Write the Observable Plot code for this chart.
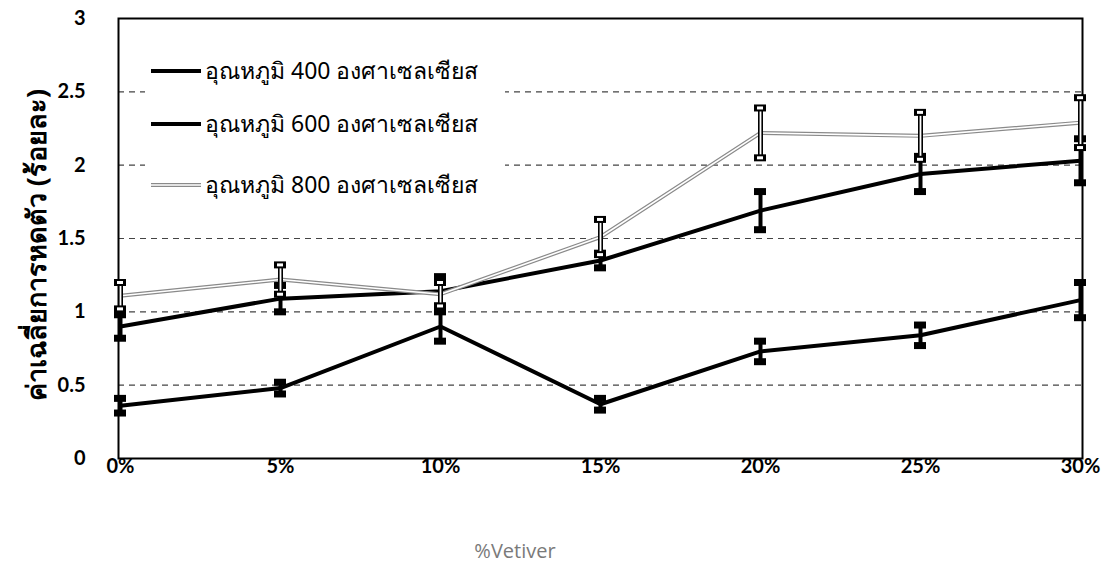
<!DOCTYPE html>
<html><head><meta charset="utf-8">
<script src="https://cdn.jsdelivr.net/npm/d3@7"></script>
<script src="https://cdn.jsdelivr.net/npm/@observablehq/plot@0.6"></script>
<style>
body{margin:0;background:#fff;}
#wrap{position:relative;width:1114px;height:572px;overflow:hidden;font-family:"Lato","Liberation Sans",sans-serif;}
#legend{position:absolute;left:145px;top:52px;width:360px;height:155px;background:#fff;}
.lrow{position:absolute;left:6px;height:30px;display:flex;align-items:center;font-family:"Noto Sans","DejaVu Sans",sans-serif;font-size:23px;color:#000;}
.lrow svg{margin-right:4px;}
#xlabel{position:absolute;left:0;width:1030px;top:537px;text-align:center;font-family:"Open Sans",sans-serif;font-size:20px;color:#7a7a7a;}
#ylabel{position:absolute;left:36px;top:245px;transform:translate(-50%,-50%) rotate(-90deg);white-space:nowrap;font-family:"Noto Sans","DejaVu Sans",sans-serif;font-weight:bold;font-size:27px;color:#000;}
</style></head><body><div id="wrap"></div>
<script>
const categories = ["0%","5%","10%","15%","20%","25%","30%"];
const seriesNames = ["อุณหภูมิ 400 องศาเซลเซียส","อุณหภูมิ 600 องศาเซลเซียส","อุณหภูมิ 800 องศาเซลเซียส"];
const values400 = [0.36,0.48,0.90,0.37,0.73,0.84,1.08];
const err400 = [0.05,0.04,0.10,0.04,0.07,0.07,0.12];
const values600 = [0.90,1.09,1.14,1.35,1.69,1.94,2.03];
const err600 = [0.08,0.09,0.10,0.05,0.13,0.12,0.15];
const values800 = [1.11,1.22,1.12,1.51,2.22,2.20,2.29];
const err800 = [0.09,0.10,0.08,0.12,0.17,0.16,0.17];
const yTicks = [0,0.5,1,1.5,2,2.5,3];
const yTickLabels = ["0","0.5","1","1.5","2","2.5","3"];
const yTitle = "ค่าเฉลี่ยการหดตัว (ร้อยละ)";
const xTitle = "%Vetiver";

const mk = (vals, errs, s) => categories.map((c,i)=>({cat:c, v:vals[i], lo:vals[i]-errs[i], hi:vals[i]+errs[i], s}));
const d400 = mk(values400, err400, seriesNames[0]);
const d600 = mk(values600, err600, seriesNames[1]);
const d800 = mk(values800, err800, seriesNames[2]);
const caps = d => d.flatMap(r=>[{cat:r.cat,y:r.lo},{cat:r.cat,y:r.hi}]);

const solid = (d) => [
  Plot.line(d,{x:"cat",y:"v",stroke:"#000",strokeWidth:4}),
  Plot.ruleX(d,{x:"cat",y1:"lo",y2:"hi",stroke:"#000",strokeWidth:4}),
  Plot.ruleY(caps(d),{x1:"cat",x2:"cat",y:"y",stroke:"#000",strokeWidth:7,insetLeft:-6,insetRight:-6})
];

const plot = Plot.plot({
  width:1114, height:572,
  marginLeft:118, marginRight:32, marginTop:18, marginBottom:114,
  style:{fontFamily:"Lato, 'Liberation Sans', sans-serif", fontSize:"20px", fontWeight:"bold", color:"#000", background:"#fff"},
  x:{type:"point", domain:categories, padding:0, label:null, tickSize:0, tickPadding:0},
  y:{domain:[0,3], ticks:yTicks, tickFormat:(d)=>yTickLabels[yTicks.indexOf(d)], label:null, tickSize:0, tickPadding:33},
  marks:[
    Plot.gridY(yTicks.slice(1,-1),{stroke:"#444",strokeOpacity:1,strokeWidth:1.2,strokeDasharray:"6,5"}),
    Plot.frame({stroke:"#000",strokeWidth:2}),
    ...solid(d400),
    ...solid(d600),
    Plot.line(d800,{x:"cat",y:"v",stroke:"#8a8a8a",strokeWidth:4}),
    Plot.line(d800,{x:"cat",y:"v",stroke:"#fff",strokeWidth:1.6}),
    Plot.ruleX(d800,{x:"cat",y1:"lo",y2:"hi",stroke:"#000",strokeWidth:5}),
    Plot.ruleX(d800,{x:"cat",y1:"lo",y2:"hi",stroke:"#fff",strokeWidth:1.8}),
    Plot.ruleY(caps(d800),{x1:"cat",x2:"cat",y:"y",stroke:"#000",strokeWidth:7,insetLeft:-6,insetRight:-6}),
    Plot.ruleY(caps(d800),{x1:"cat",x2:"cat",y:"y",stroke:"#fff",strokeWidth:3,insetLeft:-3,insetRight:-3})
  ]
});
const wrap = document.getElementById("wrap");
wrap.appendChild(plot);

const legend = document.createElement("div");
legend.id = "legend";
const styles = [
  {stroke:"#000", w:4, inner:null},
  {stroke:"#000", w:4, inner:null},
  {stroke:"#8a8a8a", w:4, inner:"#fff"}
];
seriesNames.forEach((name,i)=>{
  const row = document.createElement("div");
  row.className = "lrow";
  row.style.top = [4,57,118][i] + "px";
  const st = styles[i];
  row.innerHTML = `<svg width="50" height="10"><line x1="0" x2="50" y1="5" y2="5" stroke="${st.stroke}" stroke-width="${st.w}"/>${st.inner?`<line x1="0" x2="50" y1="5" y2="5" stroke="${st.inner}" stroke-width="1.6"/>`:""}</svg><span>${name}</span>`;
  legend.appendChild(row);
});
wrap.appendChild(legend);

const xl = document.createElement("div"); xl.id="xlabel"; xl.textContent = xTitle; wrap.appendChild(xl);
const yl = document.createElement("div"); yl.id="ylabel"; yl.textContent = yTitle; wrap.appendChild(yl);
</script></body></html>
